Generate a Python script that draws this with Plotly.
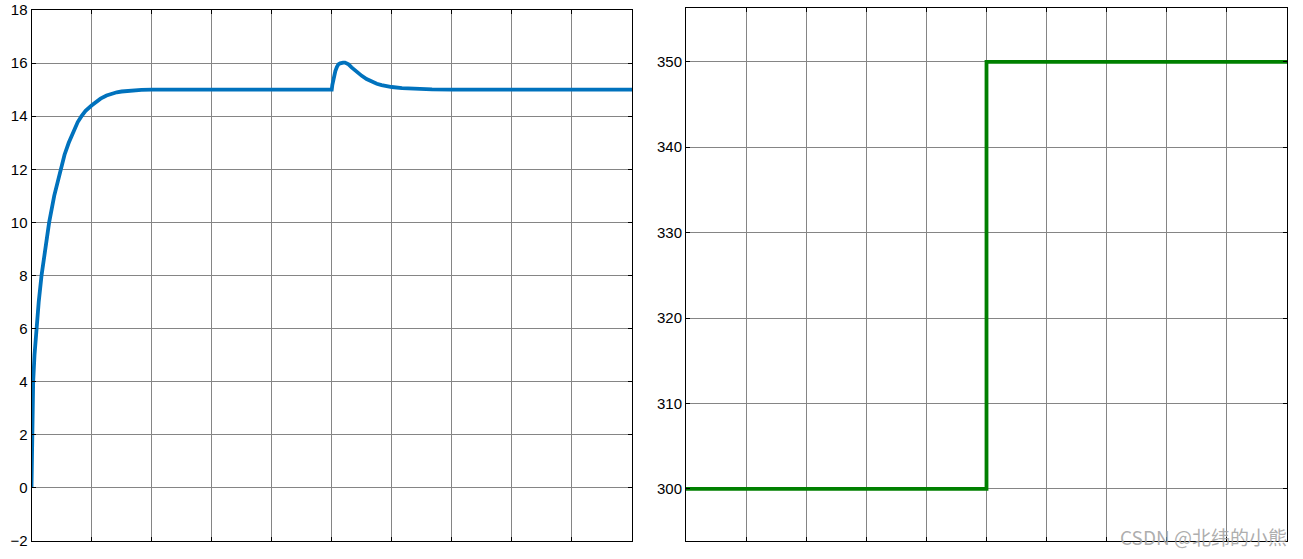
import plotly.graph_objects as go

# Left panel: response curve
t_left = [0, 0.006, 0.011, 0.017, 0.028, 0.05, 0.083, 0.12, 0.167, 0.228, 0.294, 0.378, 0.483,
          0.55, 0.62, 0.71, 0.77, 0.833, 0.9, 1.0, 1.08, 1.15, 1.25, 1.33, 1.42, 1.5, 1.67, 1.83, 2.0,
          3.0, 4.0, 5.0,
          5.01, 5.02, 5.04, 5.06, 5.085, 5.11, 5.14, 5.16, 5.19, 5.22, 5.25, 5.28, 5.33, 5.38, 5.42,
          5.5, 5.58, 5.67, 5.75, 5.83, 5.92, 6.0, 6.17, 6.33, 6.5, 6.67, 7.0, 8.0, 9.0, 10.0]
y_left = [0, 1, 2, 3, 4, 5, 6, 7, 8, 9, 10, 11, 12,
          12.55, 13, 13.5, 13.78, 14, 14.2, 14.4, 14.54, 14.66, 14.78, 14.85, 14.9, 14.93, 14.97, 14.99, 15.0,
          15.0, 15.0, 15.0,
          15.18, 15.33, 15.55, 15.7, 15.85, 15.95, 15.99, 16.01, 16.02, 16.02, 16.0, 15.95, 15.84, 15.74, 15.68,
          15.52, 15.4, 15.3, 15.22, 15.17, 15.13, 15.1, 15.06, 15.04, 15.02, 15.01, 15.0, 15.0, 15.0, 15.0]

# Right panel: step signal
t_right = [0, 5.0, 5.0, 10.0]
y_right = [300, 300, 350, 350]

left_ticks = [-2, 0, 2, 4, 6, 8, 10, 12, 14, 16, 18]
right_ticks = [300, 310, 320, 330, 340, 350]
x_ticks = list(range(0, 11))

fig = go.Figure()
fig.add_trace(go.Scatter(x=t_left, y=y_left, mode="lines",
                         line=dict(color="#0072BD", width=3.8),
                         xaxis="x", yaxis="y", showlegend=False))
fig.add_trace(go.Scatter(x=t_right, y=y_right, mode="lines",
                         line=dict(color="#008000", width=3.8), xaxis="x2", yaxis="y2",
                         showlegend=False))

W, H = 1303, 559
axis_common = dict(showgrid=True, gridcolor="#858585", gridwidth=1,
                   showline=True, linecolor="black", linewidth=1, mirror="ticks",
                   ticks="inside", ticklen=4, tickcolor="black", zeroline=False,
                   automargin=False,
                   tickfont=dict(family="Liberation Sans, Arial", size=15, color="black"))

fig.update_layout(
    width=W, height=H,
    margin=dict(l=0, r=0, t=0, b=0),
    paper_bgcolor="white", plot_bgcolor="white",
    xaxis=dict(domain=[31.5 / W, 632 / W], range=[0, 10], tickvals=x_ticks,
               showticklabels=False, anchor="y", **axis_common),
    yaxis=dict(domain=[18 / H, (H - 10) / H], range=[-2, 18], tickvals=left_ticks,
               anchor="x", **axis_common),
    xaxis2=dict(domain=[686 / W, 1287 / W], range=[0, 10], tickvals=x_ticks,
                showticklabels=False, anchor="y2", **axis_common),
    yaxis2=dict(domain=[18 / H, (H - 8) / H], range=[293.9, 356.3], tickvals=right_ticks,
                anchor="x2", **axis_common),
    annotations=[dict(text="CSDN @北纬的小熊", xref="paper", yref="paper",
                      x=1289 / W, y=7 / H, xanchor="right", yanchor="bottom",
                      showarrow=False,
                      font=dict(family="Noto Sans CJK SC", size=19, color="rgba(160,160,160,0.85)"))],
)

fig.write_html("out.html", config={"displayModeBar": False},
               post_script="document.body.style.margin='0';document.body.style.overflow='hidden';")
